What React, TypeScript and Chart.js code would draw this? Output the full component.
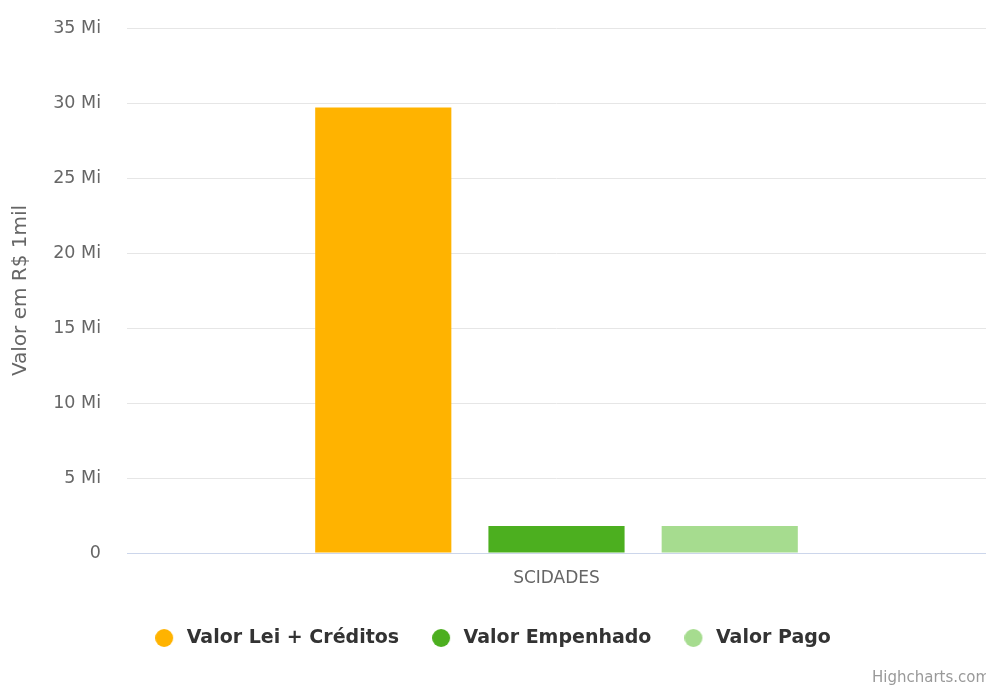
import React, { useEffect, useRef } from "react";
import { Chart, registerables } from "chart.js";

Chart.register(...registerables);

const categories = ["SCIDADES"];
const seriesNames = ["Valor Lei + Créditos", "Valor Empenhado", "Valor Pago"];
const valorLeiCreditos = [29700000];
const valorEmpenhado = [1800000];
const valorPago = [1800000];
const seriesColors = ["#FFB300", "#4CAF1F", "#A6DC8F"];
const yTickStep = 5000000;
const yMax = 35000000;
const yTitle = "Valor em R$ 1mil";
const creditText = "Highcharts.com";

const FONT = "'DejaVu Sans', 'Open Sans', sans-serif";

function makeMarker(color: string) {
  const c = document.createElement("canvas");
  c.width = 22;
  c.height = 18;
  const ctx = c.getContext("2d")!;
  ctx.fillStyle = color;
  ctx.beginPath();
  ctx.arc(9, 9, 9, 0, Math.PI * 2);
  ctx.fill();
  return c;
}

const creditPlugin = {
  id: "credit",
  afterDraw(chart: any) {
    const ctx = chart.ctx;
    ctx.save();
    ctx.font = `15px ${FONT}`;
    ctx.fillStyle = "#999999";
    ctx.textAlign = "left";
    ctx.textBaseline = "middle";
    ctx.fillText(creditText, 872, 678);
    ctx.restore();
  },
};

export default function App() {
  const ref = useRef<HTMLCanvasElement>(null);
  useEffect(() => {
    document.body.style.margin = "0";
    const canvas = ref.current!;
    const seriesData = [valorLeiCreditos, valorEmpenhado, valorPago];
    const markers = seriesColors.map(makeMarker);
    const chart = new Chart(canvas, {
      type: "bar",
      data: {
        labels: categories,
        datasets: seriesNames.map((name, i) => ({
          label: name,
          data: seriesData[i],
          backgroundColor: seriesColors[i],
          borderWidth: 0,
          categoryPercentage: 0.605,
          barPercentage: 0.786,
        })),
      },
      options: {
        responsive: false,
        animation: false,
        maintainAspectRatio: false,
        layout: { padding: { top: 28, right: 0, bottom: 29.5, left: 0 } },
        plugins: {
          tooltip: { enabled: false },
          legend: {
            position: "bottom",
            labels: {
              usePointStyle: true,
              pointStyleWidth: 22,
              boxWidth: 22,
              boxHeight: 12.7,
              padding: 33,
              color: "#333333",
              font: { family: FONT, size: 19, weight: "bold" },
              generateLabels(ch: any) {
                const items = Chart.defaults.plugins.legend.labels.generateLabels(ch);
                return items.map((it: any, i: number) => ({
                  ...it,
                  pointStyle: markers[i],
                }));
              },
            },
          },
        },
        scales: {
          x: {
            afterFit(scale: any) {
              scale.height = 42.5;
            },
            grid: { display: false, drawTicks: false },
            border: { display: true, color: "#ccd6eb", width: 1 },
            ticks: {
              padding: 15,
              color: "#666666",
              font: { family: FONT, size: 17 },
            },
          },
          y: {
            min: 0,
            max: yMax,
            afterFit(scale: any) {
              scale.width = 127;
              scale.paddingTop = 0;
              scale.paddingBottom = 0;
            },
            grid: {
              color: (c: any) => (c.tick && c.tick.value === 0 ? "#ccd6eb" : "#e6e6e6"),
              drawTicks: false,
              lineWidth: 1,
            },
            border: { display: false },
            ticks: {
              stepSize: yTickStep,
              padding: 26,
              color: "#666666",
              font: { family: FONT, size: 17.5 },
              callback: (v: any) => (v === 0 ? "0" : `${v / 1000000} Mi`),
            },
            title: {
              display: true,
              text: yTitle,
              color: "#666666",
              font: { family: FONT, size: 20 },
              padding: { top: 9, bottom: 0 },
            },
          },
        },
      },
      plugins: [creditPlugin],
    });
    return () => chart.destroy();
  }, []);
  return (
    <div style={{ width: 986, height: 687, background: "#ffffff" }}>
      <canvas ref={ref} width={986} height={687} />
    </div>
  );
}
